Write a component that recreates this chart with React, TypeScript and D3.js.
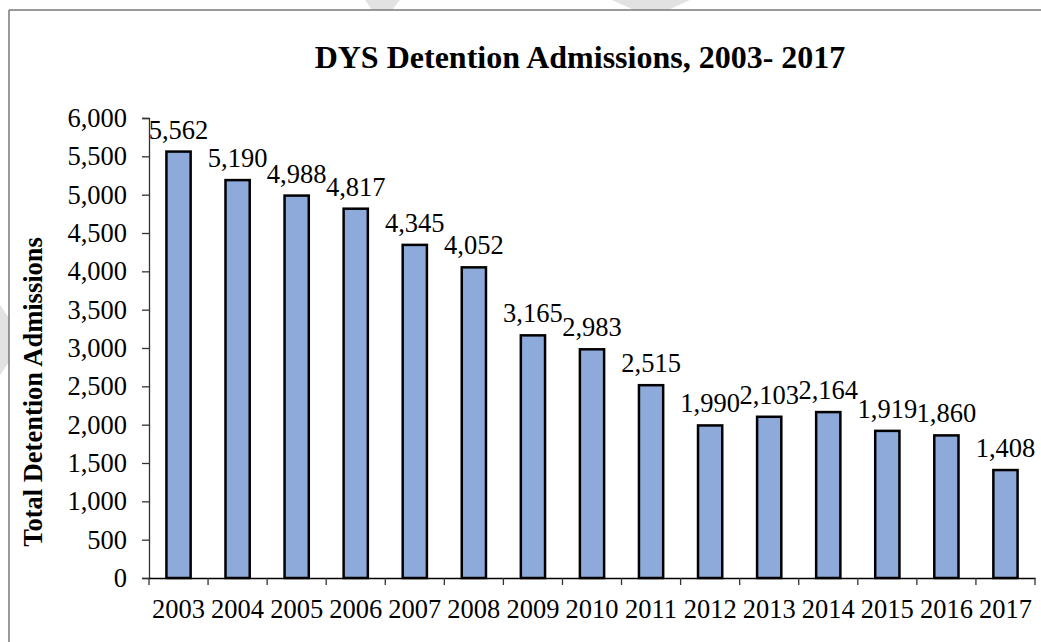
import React from "react";
import * as d3 from "d3";

const years = ["2003", "2004", "2005", "2006", "2007", "2008", "2009", "2010", "2011", "2012", "2013", "2014", "2015", "2016", "2017"];
const admissions = [5562, 5190, 4988, 4817, 4345, 4052, 3165, 2983, 2515, 1990, 2103, 2164, 1919, 1860, 1408];
const yTicks = [0, 500, 1000, 1500, 2000, 2500, 3000, 3500, 4000, 4500, 5000, 5500, 6000];

const W = 1041;
const H = 642;
const FONT = "'Liberation Serif', 'Times New Roman', serif";
const FS = 26.5;

export default function App() {
    const gRef = React.useRef<SVGGElement | null>(null);

    const x = d3.scaleBand<string>().domain(years).range([149, 1035]).paddingInner(0.59).paddingOuter(0.295);
    const y = d3.scaleLinear().domain([0, 6000]).range([578, 118]);
    const fmt = d3.format(",");

    React.useEffect(() => {
        if (!gRef.current) return;
        const g = d3.select(gRef.current);
        g.selectAll("*").remove();

        // y axis
        const yAxis = g.append("g")
            .attr("transform", "translate(149,0)")
            .call(d3.axisLeft(y).tickValues(yTicks).tickFormat(d => fmt(d as number)).tickSize(7).tickPadding(15).tickSizeOuter(7));
        yAxis.select(".domain").attr("stroke", "#333").attr("stroke-width", 1.3);
        yAxis.selectAll(".tick line").attr("stroke", "#333").attr("stroke-width", 1.3);
        yAxis.selectAll("text").attr("font-family", FONT).attr("font-size", FS).attr("fill", "#000");

        // bars
        g.append("g").selectAll("rect")
            .data(admissions)
            .enter()
            .append("rect")
            .attr("x", (_, i) => x(years[i])!)
            .attr("y", d => y(d))
            .attr("width", x.bandwidth())
            .attr("height", d => y(0) - y(d))
            .attr("fill", "#8eaadb")
            .attr("stroke", "#000")
            .attr("stroke-width", 2.5);

        // x axis
        const xAxis = g.append("g")
            .attr("transform", `translate(0,${y(0)})`)
            .call(d3.axisBottom(x).tickSize(0).tickPadding(21).tickSizeOuter(0));
        xAxis.select(".domain").attr("stroke", "#000").attr("stroke-width", 1.5);
        xAxis.selectAll("text").attr("font-family", FONT).attr("font-size", FS).attr("fill", "#000");
        const step = x.step();
        g.append("g").selectAll("line")
            .data(d3.range(years.length + 1))
            .enter()
            .append("line")
            .attr("x1", i => 149 + i * step)
            .attr("x2", i => 149 + i * step)
            .attr("y1", y(0))
            .attr("y2", y(0) + 7)
            .attr("stroke", "#333")
            .attr("stroke-width", 1.3);

        // data labels
        g.append("g").selectAll("text")
            .data(admissions)
            .enter()
            .append("text")
            .attr("x", (_, i) => x(years[i])! + x.bandwidth() / 2)
            .attr("y", d => y(d) - 13)
            .attr("text-anchor", "middle")
            .attr("font-family", FONT)
            .attr("font-size", FS)
            .text(d => fmt(d));
    }, []);

    return (
        <svg width={W} height={H} style={{ position: "absolute", left: 0, top: 0, background: "#fff" }}>
            {/* faint shapes outside the frame */}
            <polygon points="365,0 400,0 392,10 372,10" fill="#e2e2e2" />
            <polygon points="612,0 690,0 668,10 634,10" fill="#e2e2e2" />
            <polygon points="0,305 9,318 9,362 0,375" fill="#e2e2e2" />
            <line x1={9} y1={10} x2={W} y2={10} stroke="#777" strokeWidth={1.5} />
            <line x1={9} y1={10} x2={9} y2={H} stroke="#777" strokeWidth={1.5} />
            <text x={580} y={68} textAnchor="middle" fontFamily={FONT} fontWeight="bold" fontSize={32}>
                DYS Detention Admissions, 2003- 2017
            </text>
            <text transform="translate(42,392) rotate(-90)" textAnchor="middle" fontFamily={FONT} fontWeight="bold" fontSize={26.5}>
                Total Detention Admissions
            </text>
            <g ref={gRef} />
        </svg>
    );
}
